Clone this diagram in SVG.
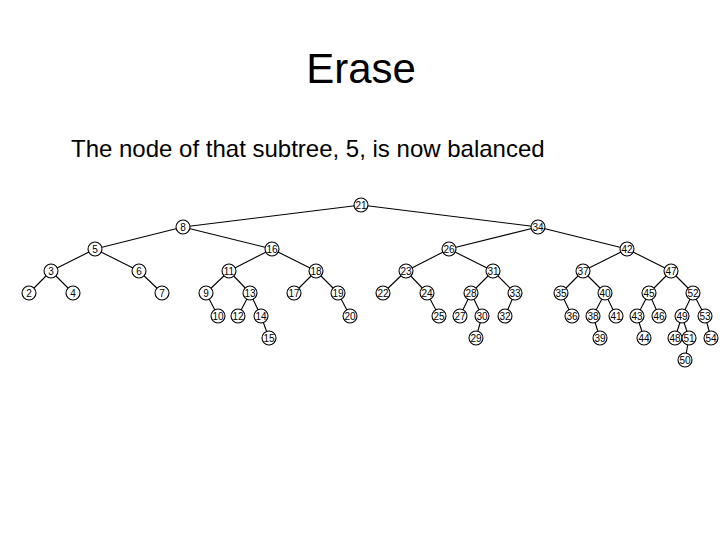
<svg xmlns="http://www.w3.org/2000/svg" width="720" height="540" viewBox="0 0 720 540">
<style>
.t{font-family:"Liberation Sans",Arial,sans-serif;fill:#000}
.n circle{fill:#fff;stroke:#000;stroke-width:1.1}
.n text{font-family:"Liberation Sans",Arial,sans-serif;font-size:10px;text-anchor:middle;fill:#000}
#edges line{stroke:#000;stroke-width:1.1}
</style>
<rect width="720" height="540" fill="#fff"/>
<text class="t" x="361" y="83" font-size="42" text-anchor="middle">Erase</text>
<text class="t" x="71" y="157" font-size="24">The node of that subtree, 5, is now balanced</text>
<g id="edges">
<line x1="361" y1="205" x2="183" y2="227"/><line x1="361" y1="205" x2="538" y2="227"/>
<line x1="183" y1="227" x2="95" y2="249"/><line x1="183" y1="227" x2="272" y2="249"/>
<line x1="95" y1="249" x2="51" y2="271"/><line x1="95" y1="249" x2="139" y2="271"/>
<line x1="51" y1="271" x2="29" y2="293"/><line x1="51" y1="271" x2="73" y2="293"/>
<line x1="139" y1="271" x2="162" y2="293"/>
<line x1="272" y1="249" x2="229" y2="271"/><line x1="272" y1="249" x2="316" y2="271"/>
<line x1="229" y1="271" x2="206" y2="293"/><line x1="229" y1="271" x2="250" y2="293"/>
<line x1="206" y1="293" x2="218" y2="316"/>
<line x1="250" y1="293" x2="238" y2="316"/><line x1="250" y1="293" x2="261" y2="316"/>
<line x1="261" y1="316" x2="269" y2="338"/>
<line x1="316" y1="271" x2="294" y2="293"/><line x1="316" y1="271" x2="338" y2="293"/>
<line x1="338" y1="293" x2="350" y2="316"/>
<line x1="538" y1="227" x2="449" y2="249"/><line x1="538" y1="227" x2="627" y2="249"/>
<line x1="449" y1="249" x2="406" y2="271"/><line x1="449" y1="249" x2="493" y2="271"/>
<line x1="406" y1="271" x2="383" y2="293"/><line x1="406" y1="271" x2="427" y2="293"/>
<line x1="427" y1="293" x2="439" y2="316"/>
<line x1="493" y1="271" x2="471" y2="293"/><line x1="493" y1="271" x2="515" y2="293"/>
<line x1="471" y1="293" x2="460" y2="316"/><line x1="471" y1="293" x2="482" y2="316"/>
<line x1="482" y1="316" x2="476" y2="338"/>
<line x1="515" y1="293" x2="505" y2="316"/>
<line x1="627" y1="249" x2="583" y2="271"/><line x1="627" y1="249" x2="671" y2="271"/>
<line x1="583" y1="271" x2="561" y2="293"/><line x1="583" y1="271" x2="605" y2="293"/>
<line x1="561" y1="293" x2="572" y2="316"/>
<line x1="605" y1="293" x2="593" y2="316"/><line x1="605" y1="293" x2="616" y2="316"/>
<line x1="593" y1="316" x2="600" y2="338"/>
<line x1="671" y1="271" x2="649" y2="293"/><line x1="671" y1="271" x2="693" y2="293"/>
<line x1="649" y1="293" x2="637" y2="316"/><line x1="649" y1="293" x2="659" y2="316"/>
<line x1="637" y1="316" x2="644" y2="338"/>
<line x1="693" y1="293" x2="682" y2="316"/><line x1="693" y1="293" x2="705" y2="316"/>
<line x1="682" y1="316" x2="675" y2="338"/><line x1="682" y1="316" x2="689" y2="338"/>
<line x1="689" y1="338" x2="685" y2="360"/>
<line x1="705" y1="316" x2="711" y2="338"/>
</g>
<g id="n21" class="n"><circle cx="361" cy="205" r="7"/><text x="361" y="208.5">21</text></g>
<g id="n8" class="n"><circle cx="183" cy="227" r="7"/><text x="183" y="230.5">8</text></g>
<g id="n34" class="n"><circle cx="538" cy="227" r="7"/><text x="538" y="230.5">34</text></g>
<g id="n5" class="n"><circle cx="95" cy="249" r="7"/><text x="95" y="252.5">5</text></g>
<g id="n16" class="n"><circle cx="272" cy="249" r="7"/><text x="272" y="252.5">16</text></g>
<g id="n26" class="n"><circle cx="449" cy="249" r="7"/><text x="449" y="252.5">26</text></g>
<g id="n42" class="n"><circle cx="627" cy="249" r="7"/><text x="627" y="252.5">42</text></g>
<g id="n3" class="n"><circle cx="51" cy="271" r="7"/><text x="51" y="274.5">3</text></g>
<g id="n6" class="n"><circle cx="139" cy="271" r="7"/><text x="139" y="274.5">6</text></g>
<g id="n11" class="n"><circle cx="229" cy="271" r="7"/><text x="229" y="274.5">11</text></g>
<g id="n18" class="n"><circle cx="316" cy="271" r="7"/><text x="316" y="274.5">18</text></g>
<g id="n23" class="n"><circle cx="406" cy="271" r="7"/><text x="406" y="274.5">23</text></g>
<g id="n31" class="n"><circle cx="493" cy="271" r="7"/><text x="493" y="274.5">31</text></g>
<g id="n37" class="n"><circle cx="583" cy="271" r="7"/><text x="583" y="274.5">37</text></g>
<g id="n47" class="n"><circle cx="671" cy="271" r="7"/><text x="671" y="274.5">47</text></g>
<g id="n2" class="n"><circle cx="29" cy="293" r="7"/><text x="29" y="296.5">2</text></g>
<g id="n4" class="n"><circle cx="73" cy="293" r="7"/><text x="73" y="296.5">4</text></g>
<g id="n7" class="n"><circle cx="162" cy="293" r="7"/><text x="162" y="296.5">7</text></g>
<g id="n9" class="n"><circle cx="206" cy="293" r="7"/><text x="206" y="296.5">9</text></g>
<g id="n13" class="n"><circle cx="250" cy="293" r="7"/><text x="250" y="296.5">13</text></g>
<g id="n17" class="n"><circle cx="294" cy="293" r="7"/><text x="294" y="296.5">17</text></g>
<g id="n19" class="n"><circle cx="338" cy="293" r="7"/><text x="338" y="296.5">19</text></g>
<g id="n22" class="n"><circle cx="383" cy="293" r="7"/><text x="383" y="296.5">22</text></g>
<g id="n24" class="n"><circle cx="427" cy="293" r="7"/><text x="427" y="296.5">24</text></g>
<g id="n28" class="n"><circle cx="471" cy="293" r="7"/><text x="471" y="296.5">28</text></g>
<g id="n33" class="n"><circle cx="515" cy="293" r="7"/><text x="515" y="296.5">33</text></g>
<g id="n35" class="n"><circle cx="561" cy="293" r="7"/><text x="561" y="296.5">35</text></g>
<g id="n40" class="n"><circle cx="605" cy="293" r="7"/><text x="605" y="296.5">40</text></g>
<g id="n45" class="n"><circle cx="649" cy="293" r="7"/><text x="649" y="296.5">45</text></g>
<g id="n52" class="n"><circle cx="693" cy="293" r="7"/><text x="693" y="296.5">52</text></g>
<g id="n10" class="n"><circle cx="218" cy="316" r="7"/><text x="218" y="319.5">10</text></g>
<g id="n12" class="n"><circle cx="238" cy="316" r="7"/><text x="238" y="319.5">12</text></g>
<g id="n14" class="n"><circle cx="261" cy="316" r="7"/><text x="261" y="319.5">14</text></g>
<g id="n20" class="n"><circle cx="350" cy="316" r="7"/><text x="350" y="319.5">20</text></g>
<g id="n25" class="n"><circle cx="439" cy="316" r="7"/><text x="439" y="319.5">25</text></g>
<g id="n27" class="n"><circle cx="460" cy="316" r="7"/><text x="460" y="319.5">27</text></g>
<g id="n30" class="n"><circle cx="482" cy="316" r="7"/><text x="482" y="319.5">30</text></g>
<g id="n32" class="n"><circle cx="505" cy="316" r="7"/><text x="505" y="319.5">32</text></g>
<g id="n36" class="n"><circle cx="572" cy="316" r="7"/><text x="572" y="319.5">36</text></g>
<g id="n38" class="n"><circle cx="593" cy="316" r="7"/><text x="593" y="319.5">38</text></g>
<g id="n41" class="n"><circle cx="616" cy="316" r="7"/><text x="616" y="319.5">41</text></g>
<g id="n43" class="n"><circle cx="637" cy="316" r="7"/><text x="637" y="319.5">43</text></g>
<g id="n46" class="n"><circle cx="659" cy="316" r="7"/><text x="659" y="319.5">46</text></g>
<g id="n49" class="n"><circle cx="682" cy="316" r="7"/><text x="682" y="319.5">49</text></g>
<g id="n53" class="n"><circle cx="705" cy="316" r="7"/><text x="705" y="319.5">53</text></g>
<g id="n15" class="n"><circle cx="269" cy="338" r="7"/><text x="269" y="341.5">15</text></g>
<g id="n29" class="n"><circle cx="476" cy="338" r="7"/><text x="476" y="341.5">29</text></g>
<g id="n39" class="n"><circle cx="600" cy="338" r="7"/><text x="600" y="341.5">39</text></g>
<g id="n44" class="n"><circle cx="644" cy="338" r="7"/><text x="644" y="341.5">44</text></g>
<g id="n48" class="n"><circle cx="675" cy="338" r="7"/><text x="675" y="341.5">48</text></g>
<g id="n51" class="n"><circle cx="689" cy="338" r="7"/><text x="689" y="341.5">51</text></g>
<g id="n54" class="n"><circle cx="711" cy="338" r="7"/><text x="711" y="341.5">54</text></g>
<g id="n50" class="n"><circle cx="685" cy="360" r="7"/><text x="685" y="363.5">50</text></g>
</svg>
